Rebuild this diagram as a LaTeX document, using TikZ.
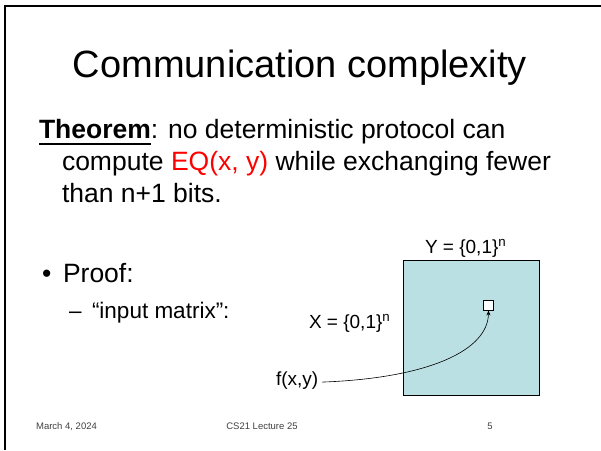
\documentclass[tikz,border=0pt]{standalone}
\usepackage{fontspec}
\setmainfont{Liberation Sans}
\usetikzlibrary{positioning,arrows.meta}
\definecolor{matrixblue}{RGB}{187,224,227}
\definecolor{footgray}{RGB}{64,64,64}
\definecolor{eqred}{RGB}{255,0,0}

% bold word with a heavy underline
\newcommand\ulword[1]{\setbox0\hbox{\bfseries #1}\rlap{\rule[-7pt]{\wd0}{2.2pt}}\box0}

\begin{document}
\begin{tikzpicture}[
    x=1pt, y=-1pt,
    every node/.style={inner sep=0pt, outer sep=0pt},
    slidetitle/.style={font=\fontsize{38}{44}\selectfont, anchor=base},
    body/.style={font=\fontsize{26.5}{32}\selectfont, anchor=base west},
    subbody/.style={font=\fontsize{22.5}{27}\selectfont, anchor=base west},
    lbl/.style={font=\fontsize{19}{22}\selectfont, anchor=base west},
    foot/.style={font=\fontsize{9.5}{11}\selectfont, text=footgray, anchor=base},
    inmatrix/.style={rectangle, draw=black, fill=matrixblue, line width=0.8pt, minimum width=136pt, minimum height=135pt},
    cell/.style={rectangle, draw=black, fill=white, line width=0.8pt, minimum size=10pt},
    arrow/.style={line width=0.6pt, -{Stealth[length=5pt,width=4pt]}}
]
\useasboundingbox (0,0) rectangle (601,450);

% Slide frame
\draw[line width=2.5pt] (5,450) -- (5,6) -- (601,6);

% Title
\node[slidetitle] (title) at (300,77) {Communication complexity};

% Theorem
\node[body] (thm1) at (39,138) {\ulword{Theorem}: no deterministic protocol can};
\node[body] (thm2) at (62,170) {compute \textcolor{eqred}{EQ(x, y)} while exchanging fewer};
\node[body] (thm3) at (62,202) {than n+1 bits.};

% Proof bullets
\node[body] (bullet) at (42,282) {•};
\node[body] (proof) at (63,282) {Proof:};
\node[subbody] (dash) at (69,318) {–};
\node[subbody] (input) at (92,318) {“input matrix”:};

% Input matrix
\node[inmatrix] (mat) at (471,327.5) {};
\node[cell] (entry) at (488.5,305.5) {};
\node[lbl] (ylabel) at (425,253) {Y = \{0,1\}\textsuperscript{n}};
\node[lbl] (xlabel) at (309,328) {X = \{0,1\}\textsuperscript{n}};
\node[lbl] (fxy) at (276,385) {f(x,y)};

% Pointer to the entry
\draw[arrow] ([xshift=4pt,yshift=-2pt]fxy.east) .. controls (430,378) and (488,350) .. (entry.south);

% Footer
\node[foot] (date) at (66.5,429) {March 4, 2024};
\node[foot] (course) at (262,429) {CS21 Lecture 25};
\node[foot] (page) at (490,429) {5};

\end{tikzpicture}
\end{document}
